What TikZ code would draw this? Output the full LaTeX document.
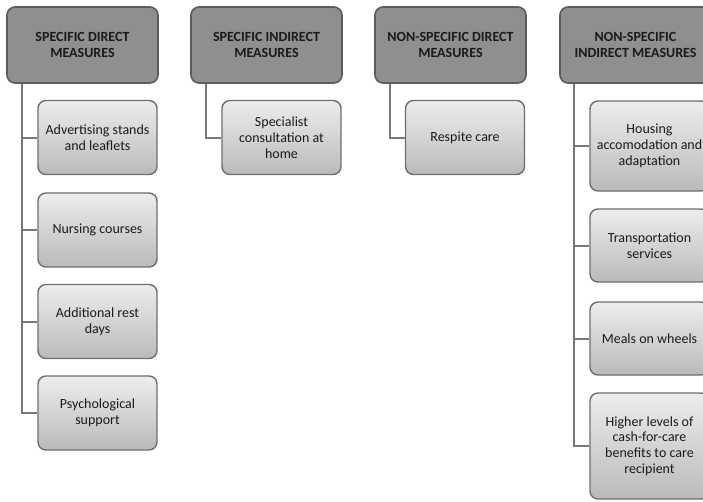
\documentclass[tikz,border=0pt]{standalone}
\usepackage{fontspec}
\setmainfont{Carlito}
\definecolor{headfill}{HTML}{8F8F8F}
\definecolor{headline}{HTML}{5C5C5C}
\definecolor{itemtop}{HTML}{EDEDED}
\definecolor{itembot}{HTML}{BABABA}
\definecolor{itemline}{HTML}{6E6E6E}
\definecolor{linkcol}{HTML}{777777}
\definecolor{textcol}{HTML}{1A1A1A}

\begin{document}
\begin{tikzpicture}[x=1pt,y=-1pt,
    head/.style={draw=headline,line width=1.6pt,rounded corners=8pt,fill=headfill,
        minimum width=151pt,minimum height=76pt,inner sep=0pt,align=center,
        text=textcol,font=\bfseries\fontsize{14}{16}\selectfont},
    item/.style={draw=itemline,line width=1.4pt,rounded corners=8pt,top color=itemtop,bottom color=itembot,
        minimum width=119pt,minimum height=74pt,inner sep=0pt,align=center,
        text=textcol,font=\fontsize{14}{15.7}\selectfont},
    link/.style={draw=linkcol,line width=2pt}]
    \useasboundingbox (0,0) rectangle (703,501);

    \node[head] (h1) at (82.5,45) {SPECIFIC DIRECT\\MEASURES};
    \node[head] (h2) at (266.5,45) {SPECIFIC INDIRECT\\MEASURES};
    \node[head] (h3) at (450.5,45) {NON-SPECIFIC DIRECT\\MEASURES};
    \node[head] (h4) at (635.5,45) {NON-SPECIFIC\\INDIRECT MEASURES};

    \node[item] (a1) at (97.5,137.5) {Advertising stands\\and leaflets};
    \node[item] (a2) at (97.5,230) {Nursing courses};
    \node[item] (a3) at (97.5,321.5) {Additional rest\\days};
    \node[item] (a4) at (97.5,413) {Psychological\\support};

    \node[item] (b1) at (281.5,137.5) {Specialist\\consultation at\\home};

    \node[item] (c1) at (465,137.5) {Respite care};

    \node[item,minimum height=90pt] (d1) at (649.5,146) {Housing\\accomodation and\\adaptation};
    \node[item,minimum height=73pt] (d2) at (649.5,245.5) {Transportation\\services};
    \node[item,minimum height=73pt] (d3) at (649.5,338.5) {Meals on wheels};
    \node[item,minimum height=106pt] (d4) at (649.5,446) {Higher levels of\\cash-for-care\\benefits to care\\recipient};

    \draw[link] ([xshift=16pt]h1.south west) |- (a1.west);
    \draw[link] ([xshift=16pt]h1.south west) |- (a2.west);
    \draw[link] ([xshift=16pt]h1.south west) |- (a3.west);
    \draw[link] ([xshift=16pt]h1.south west) |- (a4.west);
    \draw[link] ([xshift=16pt]h2.south west) |- (b1.west);
    \draw[link] ([xshift=16pt]h3.south west) |- (c1.west);
    \draw[link] ([xshift=15pt]h4.south west) |- (d1.west);
    \draw[link] ([xshift=15pt]h4.south west) |- (d2.west);
    \draw[link] ([xshift=15pt]h4.south west) |- (d3.west);
    \draw[link] ([xshift=15pt]h4.south west) |- (d4.west);
\end{tikzpicture}
\end{document}
